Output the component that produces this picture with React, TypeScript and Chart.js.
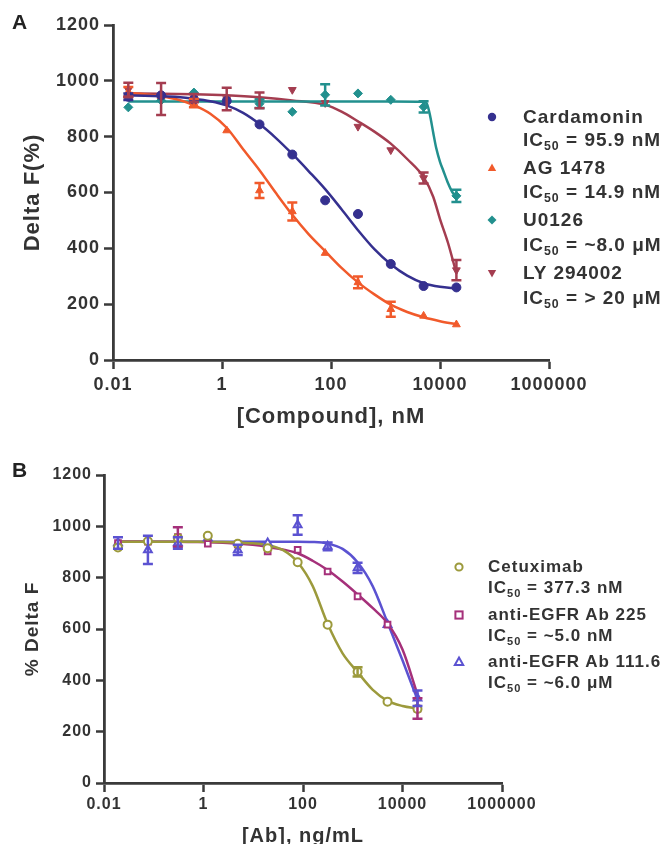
import React, { useEffect, useRef } from 'react';
import { Chart, registerables } from 'chart.js';

Chart.register(...registerables);

const FONT = '"Liberation Sans", Arial, Helvetica, sans-serif';
const TEXT = '#333333';
const AXIS = '#3a3a3a';

// ---------- Panel A data ----------
const concA = [0.0191, 0.0763, 0.305, 1.22, 4.88, 19.5, 78.1, 312.5, 1250, 5000, 20000];
const cardamonin = [943, 948, 933, 928, 844, 736, 572, 523, 344, 265, 260];
const cardamoninErr = [12, 0, 0, 0, 0, 0, 0, 0, 0, 0, 0];
const ag1478 = [960, 945, 920, 822, 607, 532, 383, 278, 182, 158, 127];
const ag1478Err = [18, 0, 15, 0, 27, 32, 0, 21, 27, 0, 0];
const u0126 = [905, 930, 958, 925, 918, 889, 950, 955, 932, 907, 588];
const u0126Err = [0, 0, 0, 0, 15, 0, 38, 0, 0, 20, 22];
const ly294002 = [968, 935, 938, 935, 930, 968, 921, 836, 752, 652, 322];
const ly294002Err = [25, 57, 15, 40, 28, 0, 0, 0, 0, 20, 36];

const fitGrid = [0.0191, 0.0381, 0.0763, 0.153, 0.305, 0.61, 1.22, 2.44, 4.88, 9.77, 19.5, 39.1, 78.1, 156, 312.5, 625, 1250, 2500, 5000, 10000, 20000];
const cardamoninFit = [948, 947, 945, 942, 936, 927, 912, 885, 845, 795, 738, 676, 612, 540, 465, 397, 343, 302, 275, 262, 256];
const ag1478Fit = [957, 952, 945, 933, 913, 882, 832, 755, 680, 598, 520, 450, 390, 330, 278, 235, 198, 172, 153, 139, 128];
const u0126FitX = [0.0191, 1.22, 78.1, 1250, 5000, 5800, 6500, 7500, 8500, 10000, 11500, 14000, 17000, 20000];
const u0126Fit = [926, 926, 926, 926, 925, 916, 880, 815, 760, 710, 678, 634, 600, 585];
const ly294002FitX = [0.0191, 0.0763, 0.305, 1.22, 4.88, 19.5, 78.1, 156, 312.5, 625, 1250, 2500, 5000, 7500, 10000, 14000, 20000];
const ly294002Fit = [955, 954, 952, 948, 941, 930, 914, 890, 855, 818, 775, 720, 655, 585, 505, 420, 310];

// ---------- Panel B data ----------
const concB = [0.0191, 0.0763, 0.305, 1.22, 4.88, 19.5, 78.1, 312.5, 1250, 5000, 20000];
const cetuximab = [918, 942, 955, 963, 932, 915, 860, 617, 433, 317, 288];
const cetuximabErr = [0, 0, 0, 0, 0, 0, 0, 0, 18, 0, 0];
const ab225 = [935, 940, 958, 932, 930, 902, 908, 824, 727, 617, 290];
const ab225Err = [0, 0, 38, 0, 0, 0, 0, 0, 0, 0, 40];
const ab1116 = [935, 908, 935, 954, 908, 935, 1005, 922, 838, 617, 330];
const ab1116Err = [22, 55, 22, 0, 20, 0, 38, 15, 20, 0, 30];

const cetuximabFit = [940, 940, 940, 940, 940, 940, 940, 939, 937, 934, 927, 908, 860, 768, 620, 505, 432, 364, 320, 300, 290];
const ab225Fit = [941, 941, 940, 940, 940, 939, 938, 936, 933, 928, 920, 910, 895, 866, 830, 785, 735, 682, 622, 520, 345];
const ab1116Fit = [940, 940, 940, 940, 940, 940, 940, 940, 940, 940, 940, 940, 940, 939, 933, 912, 860, 768, 625, 478, 325];

// ---------- Axes / labels ----------
const xTickValues = [0.01, 1, 100, 10000, 1000000];
const xTickLabels = ['0.01', '1', '100', '10000', '1000000'];
const yTickValues = [0, 200, 400, 600, 800, 1000, 1200];
const yTickLabels = ['0', '200', '400', '600', '800', '1000', '1200'];

const legendNamesA = ['Cardamonin', 'AG 1478', 'U0126', 'LY 294002'];
const legendIC50A = [' = 95.9 nM', ' = 14.9 nM', ' = ~8.0 \u03bcM', ' = > 20 \u03bcM'];
const legendNamesB = ['Cetuximab', 'anti-EGFR Ab 225', 'anti-EGFR Ab 111.6'];
const legendIC50B = [' = 377.3 nM', ' = ~5.0 nM', ' = ~6.0 \u03bcM'];

const colorsA = ['#35308f', '#f15a2b', '#22908e', '#a43d50'];
const colorsB = ['#9c9a3c', '#a5307a', '#5b52d1'];

const pts = (xs: number[], ys: number[]) => xs.map((x, i) => ({ x, y: ys[i] }));

const errorBarPlugin = {
  id: 'errorBars',
  afterDatasetsDraw(chart: any) {
    const ctx = chart.ctx;
    const yScale = chart.scales.y;
    chart.data.datasets.forEach((ds: any, i: number) => {
      const errs = ds.errors;
      if (!errs) return;
      const meta = chart.getDatasetMeta(i);
      ctx.save();
      ctx.strokeStyle = ds.borderColor;
      ctx.lineWidth = 2.5;
      meta.data.forEach((el: any, j: number) => {
        const e = errs[j];
        if (!e) return;
        const v = ds.data[j].y;
        const yt = yScale.getPixelForValue(v + e);
        const yb = yScale.getPixelForValue(v - e);
        const x = el.x;
        ctx.beginPath();
        ctx.moveTo(x, yt);
        ctx.lineTo(x, yb);
        ctx.moveTo(x - 5, yt);
        ctx.lineTo(x + 5, yt);
        ctx.moveTo(x - 5, yb);
        ctx.lineTo(x + 5, yb);
        ctx.stroke();
      });
      ctx.restore();
    });
  },
};

const spacingPlugin = {
  id: 'letterSpacing',
  beforeDraw(chart: any) {
    chart.ctx.letterSpacing = '1px';
  },
  afterDraw(chart: any) {
    chart.ctx.letterSpacing = '0px';
  },
};

function pointsDs(xs: number[], ys: number[], errs: number[], color: string, style: string, open: boolean, radius: number, rotation = 0) {
  return {
    data: pts(xs, ys),
    errors: errs,
    showLine: false,
    pointStyle: style,
    pointRadius: radius,
    pointRotation: rotation,
    pointBorderWidth: open ? 2 : 1,
    borderColor: color,
    backgroundColor: open ? '#ffffff' : color,
    order: 1,
  };
}

function fitDs(xs: number[], ys: number[], color: string) {
  return {
    data: pts(xs, ys),
    showLine: true,
    pointRadius: 0,
    borderColor: color,
    borderWidth: 2.5,
    cubicInterpolationMode: 'monotone',
    fill: false,
    order: 2,
  };
}

function makeOptions(p: any) {
  return {
    responsive: false,
    animation: false,
    events: [],
    layout: { padding: { top: p.padTop, right: p.padRight, left: 0, bottom: 0 } },
    plugins: { legend: { display: false }, tooltip: { enabled: false } },
    scales: {
      x: {
        type: 'logarithmic',
        min: xTickValues[0],
        max: xTickValues[xTickValues.length - 1],
        afterBuildTicks: (s: any) => {
          s.ticks = xTickValues.map((v) => ({ value: v }));
        },
        afterFit: (s: any) => {
          s.height = p.xHeight;
        },
        ticks: {
          autoSkip: false,
          maxRotation: 0,
          padding: p.xTickPad,
          color: TEXT,
          font: { family: FONT, size: p.tickSize, weight: 'bold' },
          callback: (_v: any, i: number) => xTickLabels[i],
        },
        grid: { display: true, drawOnChartArea: false, drawTicks: true, tickLength: 9, tickWidth: 2.5, tickColor: AXIS },
        border: { display: true, color: AXIS, width: 2.8 },
        title: {
          display: true,
          text: p.xTitle,
          color: TEXT,
          font: { family: FONT, size: p.xTitleSize, weight: 'bold' },
          padding: { top: 0, bottom: p.xTitlePad },
        },
      },
      y: {
        type: 'linear',
        min: yTickValues[0],
        max: yTickValues[yTickValues.length - 1],
        afterBuildTicks: (s: any) => {
          s.ticks = yTickValues.map((v) => ({ value: v }));
        },
        afterFit: (s: any) => {
          s.width = p.yWidth;
        },
        ticks: {
          padding: 4,
          color: TEXT,
          font: { family: FONT, size: p.tickSize, weight: 'bold' },
          callback: (_v: any, i: number) => yTickLabels[i],
        },
        grid: { display: true, drawOnChartArea: false, drawTicks: true, tickLength: p.yTickLen, tickWidth: 2.5, tickColor: AXIS },
        border: { display: true, color: AXIS, width: 2.8 },
        title: {
          display: true,
          text: p.yTitle,
          color: TEXT,
          font: { family: FONT, size: p.yTitleSize, weight: 'bold' },
          padding: { top: p.yTitlePad, bottom: 0 },
        },
      },
    },
  };
}

function configA() {
  return {
    type: 'scatter',
    data: {
      datasets: [
        pointsDs(concA, cardamonin, cardamoninErr, colorsA[0], 'circle', false, 4.5),
        pointsDs(concA, ag1478, ag1478Err, colorsA[1], 'triangle', false, 4.5),
        pointsDs(concA, u0126, u0126Err, colorsA[2], 'rectRot', false, 4.5),
        pointsDs(concA, ly294002, ly294002Err, colorsA[3], 'triangle', false, 4.5, 180),
        fitDs(fitGrid, cardamoninFit, colorsA[0]),
        fitDs(fitGrid, ag1478Fit, colorsA[1]),
        fitDs(u0126FitX, u0126Fit, colorsA[2]),
        fitDs(ly294002FitX, ly294002Fit, colorsA[3]),
      ],
    },
    options: makeOptions({
      padTop: 25, padRight: 116, xHeight: 72, yWidth: 113, tickSize: 18, xTickPad: 5, yTickLen: 9,
      xTitle: '[Compound], nM', xTitleSize: 22, xTitlePad: 2,
      yTitle: 'Delta F(%)', yTitleSize: 22, yTitlePad: 20,
    }),
    plugins: [spacingPlugin, errorBarPlugin],
  };
}

function configB() {
  return {
    type: 'scatter',
    data: {
      datasets: [
        pointsDs(concB, cetuximab, cetuximabErr, colorsB[0], 'circle', true, 4),
        pointsDs(concB, ab225, ab225Err, colorsB[1], 'rect', true, 4),
        pointsDs(concB, ab1116, ab1116Err, colorsB[2], 'triangle', true, 4.5),
        fitDs(fitGrid, cetuximabFit, colorsB[0]),
        fitDs(fitGrid, ab225Fit, colorsB[1]),
        fitDs(fitGrid, ab1116Fit, colorsB[2]),
      ],
    },
    options: makeOptions({
      padTop: 43, padRight: 163, xHeight: 65, yWidth: 104, tickSize: 16, xTickPad: 3, yTickLen: 8,
      xTitle: '[Ab], ng/mL', xTitleSize: 20, xTitlePad: 0,
      yTitle: '% Delta F', yTitleSize: 19, yTitlePad: 21,
    }),
    plugins: [spacingPlugin, errorBarPlugin],
  };
}

function ChartCanvas({ makeConfig, top, width, height }: any) {
  const ref = useRef<HTMLCanvasElement | null>(null);
  useEffect(() => {
    const chart = new Chart(ref.current as any, makeConfig() as any);
    return () => chart.destroy();
  }, []);
  return (
    <canvas
      ref={ref}
      width={width}
      height={height}
      style={{ position: 'absolute', left: 0, top, width, height, display: 'block' }}
    />
  );
}

function Marker({ shape, color, open }: any) {
  const s = 14;
  const c = 7;
  let el: any = null;
  const fill = open ? '#ffffff' : color;
  const sw = open ? 2 : 0;
  if (shape === 'circle') el = <circle cx={c} cy={c} r={open ? 3.6 : 4.2} fill={fill} stroke={color} strokeWidth={sw} />;
  if (shape === 'triUp') el = <polygon points={`${c},${c - 4.5} ${c + 4.2},${c + 3} ${c - 4.2},${c + 3}`} fill={fill} stroke={color} strokeWidth={sw} />;
  if (shape === 'triDown') el = <polygon points={`${c},${c + 4.5} ${c + 4.2},${c - 3} ${c - 4.2},${c - 3}`} fill={fill} stroke={color} strokeWidth={sw} />;
  if (shape === 'diamond') el = <polygon points={`${c},${c - 4.5} ${c + 4.5},${c} ${c},${c + 4.5} ${c - 4.5},${c}`} fill={fill} stroke={color} strokeWidth={sw} />;
  if (shape === 'square') el = <rect x={c - 3.6} y={c - 3.6} width={7.2} height={7.2} fill={fill} stroke={color} strokeWidth={sw} />;
  return (
    <svg width={s} height={s} style={{ display: 'block' }}>
      {el}
    </svg>
  );
}

function Legend({ names, ic50s, colors, shapes, open, markerX, textX, rows, fontSize }: any) {
  const items: any[] = [];
  names.forEach((n: string, i: number) => {
    const y1 = rows[i * 2];
    const y2 = rows[i * 2 + 1];
    items.push(
      <div key={'m' + i} style={{ position: 'absolute', left: markerX - 7, top: y1 - 7 }}>
        <Marker shape={shapes[i]} color={colors[i]} open={open} />
      </div>
    );
    const lineStyle: any = {
      position: 'absolute',
      left: textX,
      height: 22,
      lineHeight: '22px',
      fontFamily: FONT,
      fontWeight: 'bold',
      fontSize,
      letterSpacing: '1px',
      color: TEXT,
      whiteSpace: 'nowrap',
    };
    items.push(
      <div key={'n' + i} style={{ ...lineStyle, top: y1 - 11 }}>
        {n}
      </div>
    );
    items.push(
      <div key={'c' + i} style={{ ...lineStyle, top: y2 - 11 }}>
        IC<span style={{ fontSize: '0.65em', position: 'relative', top: '0.35em' }}>50</span>
        {ic50s[i]}
      </div>
    );
  });
  return <>{items}</>;
}

export default function App() {
  const panelLabel: any = {
    position: 'absolute',
    left: 12,
    fontFamily: FONT,
    fontWeight: 'bold',
    fontSize: 21,
    lineHeight: '22px',
    color: '#222',
  };
  return (
    <div style={{ position: 'absolute', left: 0, top: 0, width: 665, height: 844, overflow: 'hidden', background: '#ffffff' }}>
      <ChartCanvas makeConfig={configA} top={0} width={665} height={432} />
      <ChartCanvas makeConfig={configB} top={432} width={665} height={416} />
      <div style={{ ...panelLabel, top: 11 }}>A</div>
      <div style={{ ...panelLabel, top: 459 }}>B</div>
      <Legend
        names={legendNamesA}
        ic50s={legendIC50A}
        colors={colorsA}
        shapes={['circle', 'triUp', 'diamond', 'triDown']}
        open={false}
        markerX={492}
        textX={523}
        rows={[117, 140, 168, 192, 220, 245, 273, 298]}
        fontSize={19}
      />
      <Legend
        names={legendNamesB}
        ic50s={legendIC50B}
        colors={colorsB}
        shapes={['circle', 'square', 'triUp']}
        open={true}
        markerX={459}
        textX={488}
        rows={[567, 588, 615, 636, 662, 683]}
        fontSize={17}
      />
    </div>
  );
}
